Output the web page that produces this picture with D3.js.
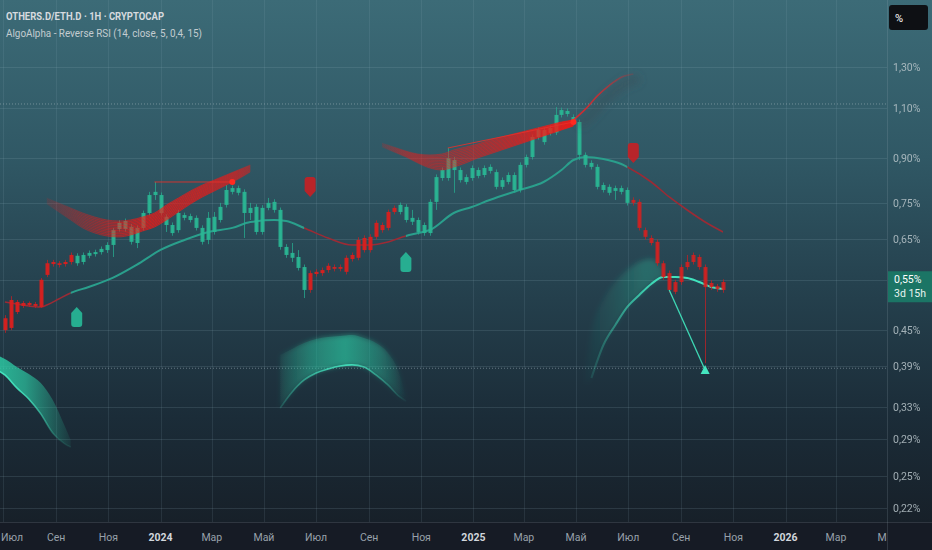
<!DOCTYPE html>
<html><head><meta charset="utf-8">
<script src="https://cdn.jsdelivr.net/npm/d3@7"></script>
<style>html,body{margin:0;padding:0;background:#161b25;overflow:hidden}svg{display:block}</style>
</head><body><svg id="c" width="932" height="550"></svg>
<script>
// ---------- DATA ----------
const firstBar = "2023-07-03"; // weekly bars
const bodyTop = [.472,.508,.504,.502,.502,.500,.551,.589,.592,.589,
.592,.609,.607,.609,.614,.616,.624,.634,.673,.693,
.698,.682,.679,.721,.775,.785,.775,.710,.687,.721,
.715,.712,.707,.679,.707,.710,.739,.791,.797,.797,
.785,.736,.739,.736,.751,.754,.730,.629,.614,.604,
.580,.566,.569,.573,.583,.580,.580,.602,.609,.647,
.652,.655,.693,.687,.724,.736,.745,.739,.707,.701,
.687,.754,.833,.857,.899,.892,.857,.833,.864,.857,
.864,.868,.850,.823,.840,.840,.875,.903,.979,1.007,
1.007,1.015,1.070,1.091,1.087,1.061,1.040,.911,.882,.868,
.807,.801,.797,.797,.791,.760,.754,.673,.652,.642,
.589,.566,.546,.580,.592,.609,.604,.580,.544,.537,.546];
const bodyBottom = [.450,.454,.484,.496,.498,.496,.494,.562,.587,.585,
.587,.592,.589,.592,.607,.611,.616,.621,.634,.676,
.676,.642,.639,.679,.721,.775,.721,.687,.665,.673,
.707,.701,.679,.642,.647,.668,.701,.745,.785,.782,
.721,.721,.668,.668,.736,.730,.629,.609,.602,.578,
.529,.529,.564,.566,.573,.576,.576,.569,.599,.602,
.621,.621,.655,.673,.679,.724,.724,.701,.696,.668,
.665,.665,.754,.830,.830,.857,.823,.817,.830,.837,
.840,.854,.801,.801,.817,.791,.791,.875,.903,.979,
.959,.995,.997,1.070,1.074,1.036,.911,.875,.868,.801,
.791,.782,.788,.785,.751,.751,.679,.655,.639,.589,
.557,.529,.525,.546,.580,.592,.580,.535,.535,.531,.529];
const highs = [.478,.516,.508,.506,.505,.504,.555,.597,.597,.594,
.597,.615,.613,.615,.620,.622,.630,.641,.679,.700,
.705,.690,.686,.728,.785,.817,.783,.717,.694,.730,
.722,.719,.714,.686,.724,.724,.751,.807,.805,.805,
.793,.751,.747,.744,.766,.762,.737,.636,.639,.621,
.586,.572,.575,.579,.589,.586,.586,.608,.615,.654,
.659,.662,.700,.694,.731,.743,.752,.747,.730,.708,
.694,.762,.842,.866,.937,.903,.866,.842,.873,.866,
.873,.877,.859,.832,.849,.849,.884,.912,.989,1.017,
1.017,1.025,1.104,1.102,1.098,1.072,1.050,.920,.891,.877,
.815,.809,.805,.805,.799,.768,.762,.680,.659,.648,
.595,.572,.551,.586,.609,.615,.610,.586,.550,.542,.552];
const lows = [.445,.450,.480,.492,.494,.492,.492,.557,.581,.579,
.581,.586,.583,.586,.601,.605,.610,.614,.604,.669,
.669,.635,.626,.672,.714,.760,.714,.668,.658,.666,
.700,.694,.672,.635,.636,.661,.694,.737,.777,.774,
.652,.701,.661,.661,.729,.722,.622,.602,.592,.572,
.512,.523,.558,.560,.567,.570,.570,.563,.593,.596,
.615,.615,.648,.666,.672,.717,.717,.694,.687,.661,
.658,.658,.730,.821,.821,.782,.815,.809,.821,.829,
.832,.845,.793,.793,.809,.783,.783,.866,.894,.969,
.949,.985,.987,1.059,1.063,1.026,.892,.866,.859,.793,
.783,.774,.760,.777,.743,.743,.672,.648,.633,.583,
.551,.523,.520,.540,.574,.586,.574,.394,.529,.525,.523];
const trend = "rrrrrrrrrrrr" + "ttttttttttttttttttttttttttttttttttttttt" + "rrrrrrrrrrrrrrr" + "ttttttttttttttttttttttttttttttttttttttt" + "rrrrrrrrrrrrrrrr";

// trend line (bar index, value)
const maIdx = [0,2,4,6,7,9,11,14,18,22,26,30,34,38,41,45,47,50,54,58,61,64,67,69,71,75,78,81,86,90,93,95,97,100,103,104,108,111,114,117,120];
const maVal = [.5040,.5000,.4960,.4940,.4979,.5101,.5226,.5354,.5551,.5849,.6213,.6468,.6680,.6790,.6954,.7010,.6982,.6788,.6519,.6339,.6339,.6416,.6573,.6652,.6733,.7210,.7387,.7597,.7909,.8168,.8572,.8924,.9032,.8960,.8781,.8676,.8168,.7690,.7298,.6954,.6680];
const maRedRanges = [[0,11],[50,67],[104,120]];

// red bands (upper / lower edge)
const redBand1Idx = [7,9,11,13,15,17,19,21,23,25,27,29,31,33,35,37,39,41];
const redBand1Up = [.7659,.7506,.7357,.7210,.7095,.7010,.6982,.7010,.7095,.7210,.7446,.7659,.7877,.8070,.8234,.8401,.8572,.8746];
const redBand1Lo = [.7476,.7240,.7010,.6788,.6652,.6573,.6547,.6599,.6706,.6815,.7010,.7240,.7476,.7690,.7877,.8070,.8267,.8503];
const redBand2Idx = [63,65,67,69,71,73,75,77,79,81,83,85,87,89,91,93,95];
const redBand2Up = [.9556,.9403,.9253,.9141,.9105,.9141,.9290,.9403,.9517,.9672,.9789,.9908,1.0029,1.0150,1.0273,1.0399,1.0482];
const redBand2Lo = [.9403,.9215,.9032,.8817,.8641,.8572,.8676,.8817,.8996,.9141,.9290,.9441,.9594,.9750,.9908,1.0069,1.0232];
const redTailIdx = [95,97,99,101,103,105];
const redTailVal = [1.0482,1.095,1.155,1.205,1.245,1.261];
const pivotLines = [[25,.8168,38,.8168],[74,.9365,95,1.0399]];

// teal bands
const tealBand1Idx = [-1,0,2,4,6,8,10,11];
const tealBand1Up = [.4055,.4007,.3881,.3772,.3638,.3398,.3060,.2893];
const tealBand1Lo = [.3819,.3757,.3566,.3411,.3212,.2975,.2847,.2812];
const tealBand2Idx = [46,48,50,52,54,56,58,60,62,64,66,67];
const tealBand2Up = [.4072,.4172,.4273,.4342,.4377,.4395,.4413,.4360,.4273,.4105,.3757,.3425];
const tealBand2Lo = [.3290,.3509,.3682,.3788,.3850,.3896,.3912,.3881,.3757,.3609,.3439,.3384];
const tealBand3Idx = [97,98,100,102,104,106,108,110];
const tealBand3Up = [.3900,.4503,.5081,.5462,.5733,.5920,.5992,.5733];
const tealBand3Lo = [.3600,.3712,.4239,.4595,.4940,.5184,.5419,.5573];
const tealLineIdx = [98,100,102,104,106,108,110,112,114,116,118,120];
const tealLineVal = [.3712,.4239,.4595,.4940,.5184,.5419,.5573,.5573,.5551,.5462,.5354,.5311];

// signals
const buyIdx = [12,67], buyVal = [.4940,.6163];
const sellIdx = [51,105], sellVal = [.8334,.9555];
const signalLine = [[111,.5289],[117,.3834]];
const dottedLevels = [1.118, 0.386];

// axes
const priceTicks = [1.30,1.10,0.90,0.75,0.65,0.55,0.45,0.39,0.33,0.29,0.25,0.22];
const timeTicks = ["2023-07-01","2023-09-01","2023-11-01","2024-01-01","2024-03-01","2024-05-01","2024-07-01","2024-09-01","2024-11-01","2025-01-01","2025-03-01","2025-05-01","2025-07-01","2025-09-01","2025-11-01","2026-01-01","2026-03-01","2026-05-01"];
const timeLabels = ["Июл","Сен","Ноя","2024","Мар","Май","Июл","Сен","Ноя","2025","Мар","Май","Июл","Сен","Ноя","2026","Мар","Май"];
const lastPrice = "0,55%", countdown = "3d 15h";
const title = "OTHERS.D/ETH.D · 1H · CRYPTOCAP";
const subtitle = "AlgoAlpha - Reverse RSI (14, close, 5, 0,4, 15)";

// ---------- CHART ----------
const W = 932, H = 550, PW = 887, PH = 522;
const svg = d3.select('#c');
const defs = svg.append('defs');
const parse = d3.timeParse("%Y-%m-%d");
const t0 = parse(firstBar);
const barDate = i => d3.timeDay.offset(t0, 7 * i);
const x = d3.scaleTime().domain([parse("2024-01-01"), parse("2026-01-01")]).range([160.5, 785.5]);
const y = d3.scaleLog().domain([0.2079, 1.699]).range([PH, 0]);
const xi = i => x(barDate(i));

// background
const bg = defs.append('linearGradient').attr('id','bg').attr('x1',0).attr('y1',0).attr('x2',0).attr('y2',1);
[[0,'#3c6b77'],[0.3,'#305865'],[0.55,'#25414e'],[0.8,'#1b2c38'],[1,'#172029']].forEach(s=>bg.append('stop').attr('offset',s[0]).attr('stop-color',s[1]));
svg.append('rect').attr('width',W).attr('height',PH).attr('fill','url(#bg)');
svg.append('rect').attr('y',PH).attr('width',W).attr('height',H-PH).attr('fill','#161b25');

defs.append('clipPath').attr('id','clipPlot').append('rect').attr('width',PW).attr('height',PH);
defs.append('clipPath').attr('id','clipTime').append('rect').attr('y',PH).attr('width',PW).attr('height',H-PH);
const blur = defs.append('filter').attr('id','blur').attr('x','-50%').attr('y','-50%').attr('width','200%').attr('height','200%');
blur.append('feGaussianBlur').attr('stdDeviation',4);
const blur2 = defs.append('filter').attr('id','blur2').attr('x','-50%').attr('y','-50%').attr('width','200%').attr('height','200%');
blur2.append('feGaussianBlur').attr('stdDeviation',2.5);

function hGrad(id, color, stops){
  const g = defs.append('linearGradient').attr('id',id).attr('gradientUnits','userSpaceOnUse')
    .attr('x1',0).attr('x2',W).attr('y1',0).attr('y2',0);
  stops.forEach(s=>g.append('stop').attr('offset',s[0]/W).attr('stop-color',color).attr('stop-opacity',s[1]));
  return `url(#${id})`;
}

const plot = svg.append('g').attr('clip-path','url(#clipPlot)');

// grid
plot.selectAll('.hg').data(priceTicks).join('line')
  .attr('x1',0).attr('x2',PW).attr('y1',d=>Math.round(y(d))+0.5).attr('y2',d=>Math.round(y(d))+0.5)
  .attr('stroke','rgba(150,180,190,0.16)').attr('stroke-width',1);
plot.selectAll('.vg').data(timeTicks).join('line')
  .attr('x1',d=>Math.round(x(parse(d)))+0.5).attr('x2',d=>Math.round(x(parse(d)))+0.5).attr('y1',0).attr('y2',PH)
  .attr('stroke','rgba(150,180,190,0.13)').attr('stroke-width',1);
plot.selectAll('.dl').data(dottedLevels).join('line')
  .attr('x1',0).attr('x2',PW).attr('y1',d=>y(d)).attr('y2',d=>y(d))
  .attr('stroke','rgba(190,205,210,0.45)').attr('stroke-dasharray','1,2');

// teal bands
const areaGen = d3.area().curve(d3.curveMonotoneX);
const lineGen = d3.line().curve(d3.curveMonotoneX);
function band(idx, up, lo, fill, filter){
  const p = plot.append('path').attr('d', areaGen.x((d,j)=>xi(idx[j])).y0((d,j)=>y(lo[j])).y1((d,j)=>y(up[j]))(idx)).attr('fill',fill);
  if(filter) p.attr('filter',filter);
}
band(tealBand1Idx, tealBand1Up, tealBand1Lo, hGrad('tb1','#2cc7a2',[[0,0.85],[25,0.7],[50,0.35],[75,0.02]]));
band(tealBand2Idx, tealBand2Up, tealBand2Lo, hGrad('tb2','#2cc7a2',[[272,0.02],[310,0.35],[345,0.55],[380,0.3],[406,0.02]]), 'url(#blur2)');
band(tealBand2Idx, tealBand2Up, tealBand2Lo, hGrad('tb2b','#2cc7a2',[[272,0.0],[310,0.2],[345,0.3],[380,0.15],[406,0.0]]));
band(tealBand3Idx, tealBand3Up, tealBand3Lo, hGrad('tb3','#2cc7a2',[[580,0.0],[615,0.14],[645,0.3],[665,0.25]]), 'url(#blur2)');
// bright edges
plot.append('path').attr('d', lineGen.x((d,j)=>xi(tealBand1Idx[j])).y((d,j)=>y(tealBand1Lo[j]))(tealBand1Idx))
  .attr('fill','none').attr('stroke',hGrad('tl1','#45e6c0',[[0,1],[30,0.8],[60,0.1]])).attr('stroke-width',1.6);
plot.append('path').attr('d', lineGen.x((d,j)=>xi(tealBand2Idx[j])).y((d,j)=>y(tealBand2Lo[j]))(tealBand2Idx))
  .attr('fill','none').attr('stroke',hGrad('tl2','#45e6c0',[[275,0.1],[320,0.7],[350,0.9],[375,0.5],[405,0.05]])).attr('stroke-width',1.6);
plot.append('path').attr('d', lineGen.x((d,j)=>xi(tealLineIdx[j])).y((d,j)=>y(tealLineVal[j]))(tealLineIdx))
  .attr('fill','none').attr('stroke',hGrad('tl3','#40e3bd',[[585,0.05],[620,0.5],[650,0.9],[665,1]])).attr('stroke-width',2);

// moving line (two colours)
const maPath = lineGen.x((d,j)=>xi(maIdx[j])).y((d,j)=>y(maVal[j]))(maIdx);
const redClip = defs.append('clipPath').attr('id','maRed');
maRedRanges.forEach(r=>redClip.append('rect').attr('x',xi(r[0])-3).attr('y',0).attr('width',xi(r[1])-xi(r[0])+3).attr('height',PH));
const tealClip = defs.append('clipPath').attr('id','maTeal');
[[ -5,11],[50,67],[104,125]].reduce((prev,r)=>{ if(prev!==null){ tealClip.append('rect').attr('x',xi(prev)).attr('y',0).attr('width',xi(r[0])-xi(prev)).attr('height',PH);} return r[1]; }, null);
plot.append('path').attr('d',maPath).attr('fill','none').attr('stroke','#9b2b35').attr('stroke-width',1.6).attr('clip-path','url(#maRed)');
plot.append('path').attr('d',maPath).attr('fill','none').attr('stroke','#2a9f8c').attr('stroke-width',2).attr('clip-path','url(#maTeal)');

// candles
const idxs = d3.range(bodyTop.length);
const cg = plot.append('g');
cg.selectAll('line').data(idxs).join('line')
  .attr('x1',i=>Math.round(xi(i))+0.5).attr('x2',i=>Math.round(xi(i))+0.5)
  .attr('y1',i=>y(highs[i])).attr('y2',i=>y(lows[i]))
  .attr('stroke',i=>trend[i]==='r'?'#c42024':'#27ad90').attr('stroke-width',1).attr('opacity',0.75);
cg.selectAll('rect').data(idxs).join('rect')
  .attr('x',i=>Math.round(xi(i))-1.5).attr('width',4)
  .attr('y',i=>y(bodyTop[i])).attr('height',i=>Math.max(1.5,y(bodyBottom[i])-y(bodyTop[i])))
  .attr('fill',i=>trend[i]==='r'?'#d8201f':'#2ab694').attr('opacity',i=>trend[i]==='r'?(i>100?0.85:0.95):0.92);

// red fans
function fan(idx, up, lo, gradUrl, n, fillOp){
  plot.append('path').attr('d', areaGen.x((d,j)=>xi(idx[j])).y0((d,j)=>y(lo[j])).y1((d,j)=>y(up[j]))(idx))
    .attr('fill',gradUrl).attr('opacity',fillOp);
  for(let k=0;k<=n;k++){
    const t=k/n;
    const pts = idx.map((d,j)=>[xi(d), y(up[j])*(1-t)+y(lo[j])*t]);
    plot.append('path').attr('d', d3.line().curve(d3.curveMonotoneX)(pts)).attr('fill','none')
      .attr('stroke',gradUrl).attr('stroke-width',1).attr('opacity',0.7);
  }
}
fan(redBand1Idx, redBand1Up, redBand1Lo, hGrad('rb1','#ff1410',[[38,0],[75,0.35],[115,0.65],[150,0.9],[200,0.8],[235,0.65],[250,0.4]]), 10, 0.45);
fan(redBand2Idx, redBand2Up, redBand2Lo, hGrad('rb2','#ff1410',[[375,0],[420,0.5],[470,0.6],[520,0.8],[572,1]]), 10, 0.45);

// tail line with shadow
const tailPath = lineGen.x((d,j)=>xi(redTailIdx[j])).y((d,j)=>y(redTailVal[j]))(redTailIdx);
plot.append('path').attr('d',tailPath).attr('transform','translate(6,5)').attr('fill','none')
  .attr('stroke','rgba(60,75,85,0.45)').attr('stroke-width',9).attr('filter','url(#blur)');
plot.append('path').attr('d',tailPath).attr('fill','none')
  .attr('stroke',hGrad('rt','#e0262a',[[570,0.95],[600,0.75],[632,0.2]])).attr('stroke-width',1.6);

// pivot lines
plot.selectAll('.pv').data(pivotLines).join('line')
  .attr('x1',d=>xi(d[0])).attr('y1',d=>y(d[1])).attr('x2',d=>xi(d[2])).attr('y2',d=>y(d[3]))
  .attr('stroke','#e8302a').attr('stroke-width',1).attr('opacity',0.85);
plot.selectAll('.pd').data(pivotLines).join('circle')
  .attr('cx',d=>xi(d[2])).attr('cy',d=>y(d[3])).attr('r',3).attr('fill','#ff2a20');

// buy / sell markers
plot.selectAll('.buy').data(buyIdx).join('path')
  .attr('d',(d,j)=>{const cx=xi(d), ty=y(buyVal[j]);
    return `M${cx},${ty} L${cx+5.5},${ty+6} L${cx+5.5},${ty+17} Q${cx+5.5},${ty+20} ${cx+2.5},${ty+20} L${cx-2.5},${ty+20} Q${cx-5.5},${ty+20} ${cx-5.5},${ty+17} L${cx-5.5},${ty+6} Z`;})
  .attr('fill','#27b495').attr('opacity',0.95);
plot.selectAll('.sell').data(sellIdx).join('path')
  .attr('d',(d,j)=>{const cx=xi(d), ty=y(sellVal[j]);
    return `M${cx},${ty+20} L${cx+5.5},${ty+14} L${cx+5.5},${ty+3} Q${cx+5.5},${ty} ${cx+2.5},${ty} L${cx-2.5},${ty} Q${cx-5.5},${ty} ${cx-5.5},${ty+3} L${cx-5.5},${ty+14} Z`;})
  .attr('fill','#c81f24').attr('opacity',0.9);

// signal line + triangle
plot.append('line').attr('x1',xi(signalLine[0][0])).attr('y1',y(signalLine[0][1]))
  .attr('x2',xi(signalLine[1][0])).attr('y2',y(signalLine[1][1]))
  .attr('stroke','#3ed8b4').attr('stroke-width',1.3);
{ const cx=xi(signalLine[1][0]), cy=y(signalLine[1][1]);
  plot.append('path').attr('d',`M${cx},${cy-5} L${cx+4.5},${cy+4} L${cx-4.5},${cy+4} Z`).attr('fill','#45e6c0'); }

// axes borders
svg.append('line').attr('x1',PW+0.5).attr('x2',PW+0.5).attr('y1',0).attr('y2',H).attr('stroke','rgba(160,180,190,0.18)');
svg.append('line').attr('x1',0).attr('x2',W).attr('y1',PH+0.5).attr('y2',PH+0.5).attr('stroke','rgba(160,180,190,0.18)');

// price labels
svg.selectAll('.pl').data(priceTicks).join('text')
  .attr('x',893).attr('y',d=>y(d)+4)
  .attr('font-family','Roboto, "Noto Sans", sans-serif').attr('font-size',10.5)
  .attr('fill','#b9c5ca').attr('opacity',0.85)
  .text(d=>d3.format('.2f')(d).replace('.',',')+'%');

// time labels (first one pinned to the left edge so it stays readable)
const tl = svg.append('g').attr('clip-path','url(#clipTime)');
tl.selectAll('text').data(timeTicks).join('text')
  .attr('x',(d,j)=>j===0?1:x(parse(d))).attr('y',541)
  .attr('text-anchor',(d,j)=>j===0?'start':'middle')
  .attr('font-family','Roboto, "Noto Sans", sans-serif').attr('font-size',10.5)
  .attr('font-weight',(d,j)=>/^\d/.test(timeLabels[j])?700:400)
  .attr('fill',(d,j)=>/^\d/.test(timeLabels[j])?'#d1d6dc':'#98a1ab')
  .text((d,j)=>timeLabels[j]);

// last price box
svg.append('rect').attr('x',PW+1).attr('y',y(0.55)-9).attr('width',W-PW-1).attr('height',31).attr('fill','#1b7565');
svg.append('text').attr('x',894).attr('y',y(0.55)+3).attr('font-family','Roboto, sans-serif').attr('font-size',10.5).attr('fill','#ffffff').text(lastPrice);
svg.append('text').attr('x',894).attr('y',y(0.55)+17).attr('font-family','Roboto, sans-serif').attr('font-size',10.5).attr('fill','#e8f4f1').text(countdown);

// percent button
svg.append('rect').attr('x',889).attr('y',5).attr('width',39).attr('height',25).attr('rx',3).attr('fill','#0e1014');
svg.append('text').attr('x',895).attr('y',22).attr('font-family','Roboto, sans-serif').attr('font-size',11).attr('fill','#ffffff').text('%');

// titles
svg.append('text').attr('x',6).attr('y',20).attr('font-family','Roboto, "Noto Sans", sans-serif').attr('font-size',11)
  .attr('font-weight',700).attr('fill','#d6dadf').attr('textLength',158).attr('lengthAdjust','spacingAndGlyphs').text(title);
svg.append('text').attr('x',6).attr('y',37).attr('font-family','Roboto, "Noto Sans", sans-serif').attr('font-size',11)
  .attr('fill','#c3ccd0').attr('textLength',196).attr('lengthAdjust','spacingAndGlyphs').text(subtitle);
</script>
</body></html>
